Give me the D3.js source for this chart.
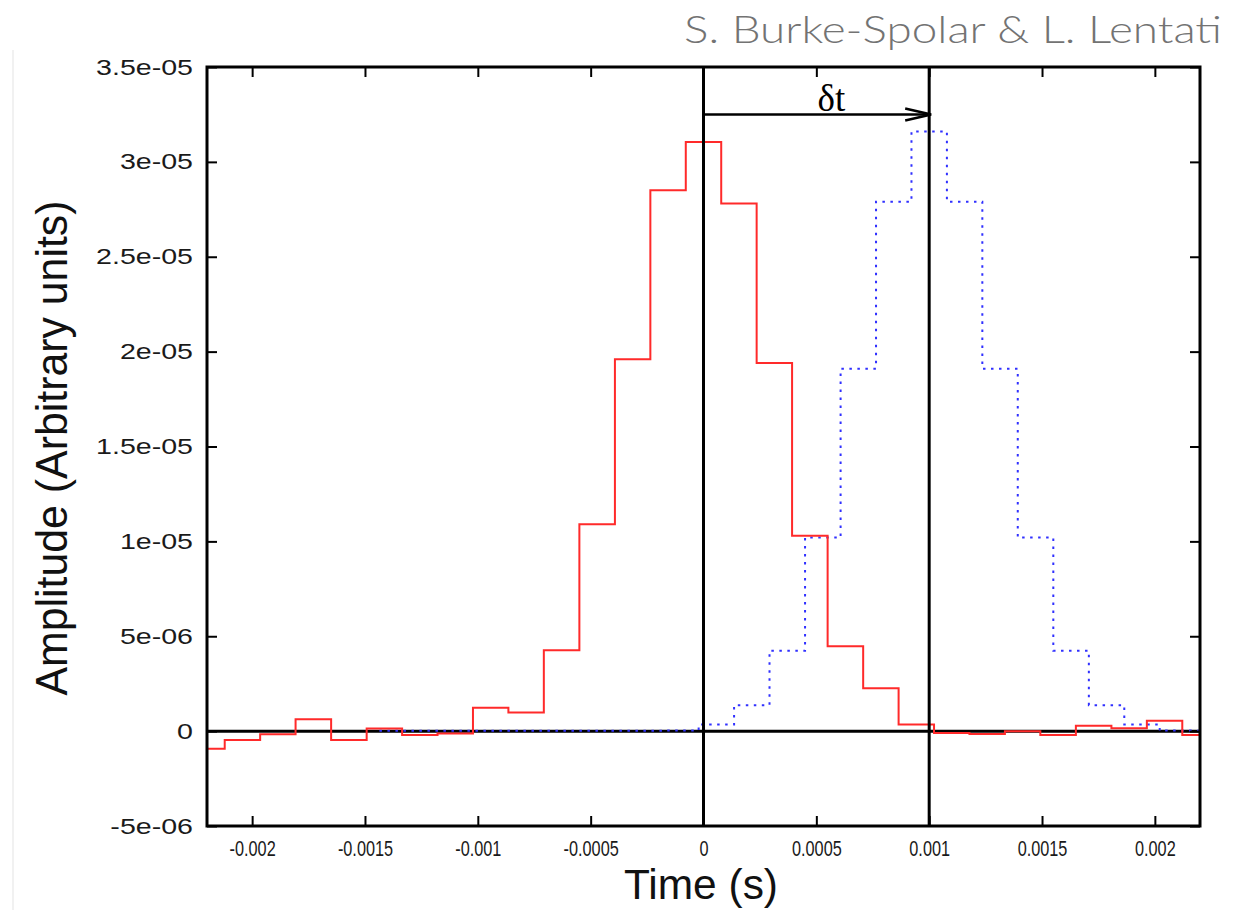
<!DOCTYPE html>
<html>
<head>
<meta charset="utf-8">
<script src="https://cdn.jsdelivr.net/npm/d3@7"></script>
<style>
  body { margin: 0; background: #fff; }
  text { font-family: "Liberation Sans", Arial, sans-serif; }
</style>
</head>
<body>
<svg width="1257" height="910"></svg>
<script>
// red: observed pulse (noisy), bins centred on these times (s)
var redTime = [-0.002200, -0.002043, -0.001886, -0.001729, -0.001571, -0.001414, -0.001257,
               -0.001100, -0.000943, -0.000786, -0.000629, -0.000471, -0.000314, -0.000157,
                0.000000,  0.000157,  0.000314,  0.000471,  0.000629,  0.000786,  0.000943,
                0.001100,  0.001257,  0.001414,  0.001571,  0.001729,  0.001886,  0.002043, 0.002200];
var redAmp = [-0.93e-6, -0.47e-6, -0.16e-6, 0.63e-6, -0.47e-6, 0.14e-6, -0.21e-6,
              -0.12e-6, 1.23e-6, 0.98e-6, 4.26e-6, 10.9e-6, 19.6e-6, 28.5e-6,
              31.05e-6, 27.8e-6, 19.4e-6, 10.3e-6, 4.47e-6, 2.26e-6, 0.35e-6,
              -0.10e-6, -0.15e-6, 0.0, -0.20e-6, 0.28e-6, 0.15e-6, 0.55e-6, -0.20e-6];

// blue: template shifted by dt (first entry is the left edge of its first bin)
var blueTime = [-0.001436, -0.001357,
                -0.001200, -0.001043, -0.000886, -0.000729, -0.000571, -0.000414, -0.000257,
                -0.000100,  0.000057,  0.000214,  0.000371,  0.000529,  0.000686,  0.000843,
                 0.001000,  0.001157,  0.001314,  0.001471,  0.001629,  0.001786,  0.001943,
                 0.002100,  0.002257];
var blueAmp = [0.02e-6, 0.02e-6,
               0.02e-6, 0.02e-6, 0.02e-6, 0.02e-6, 0.02e-6, 0.02e-6, 0.02e-6,
               0.03e-6, 0.35e-6, 1.37e-6, 4.24e-6, 10.2e-6, 19.1e-6, 27.9e-6,
               31.6e-6, 27.9e-6, 19.1e-6, 10.2e-6, 4.24e-6, 1.37e-6, 0.35e-6,
               0.03e-6, 0.02e-6];

var markTimes = [0, 0.001];
var arrowAmp = 3.25e-5;

var xTicks = [-0.002, -0.0015, -0.001, -0.0005, 0, 0.0005, 0.001, 0.0015, 0.002],
    xTickLabels = ["-0.002", "-0.0015", "-0.001", "-0.0005", "0", "0.0005", "0.001", "0.0015", "0.002"];
var yTicks = [-5e-6, 0, 5e-6, 1e-5, 1.5e-5, 2e-5, 2.5e-5, 3e-5, 3.5e-5],
    yTickLabels = ["-5e-06", "0", "5e-06", "1e-05", "1.5e-05", "2e-05", "2.5e-05", "3e-05", "3.5e-05"];

var svg = d3.select("svg"),
    margin = {top: 67, right: 57, bottom: 84, left: 207},
    width = +svg.attr("width") - margin.left - margin.right,
    height = +svg.attr("height") - margin.top - margin.bottom,
    g = svg.append("g").attr("transform", "translate(" + margin.left + "," + margin.top + ")");

var x = d3.scaleLinear()
    .domain([-0.0022, 0.0022])
    .range([0, width]);

var y = d3.scaleLinear()
    .domain([-5e-6, 3.5e-5])
    .range([height, 0]);

var step = d3.line()
    .x(function(d) { return x(d[0]); })
    .y(function(d) { return y(d[1]); })
    .curve(d3.curveStep);

// faint page edge
svg.append("line")
    .attr("x1", 13).attr("x2", 13).attr("y1", 50).attr("y2", 910)
    .attr("stroke", "#ececec").attr("stroke-width", 1.5);

// credit
svg.append("text")
    .attr("x", 1222).attr("y", 43)
    .attr("text-anchor", "end")
    .attr("textLength", 538).attr("lengthAdjust", "spacingAndGlyphs")
    .style("font-family", "Lato, 'Open Sans', sans-serif")
    .style("font-weight", 300)
    .style("font-size", "38px")
    .attr("fill", "#737373")
    .text("S. Burke-Spolar & L. Lentati");

g.append("defs").append("clipPath")
    .attr("id", "clip")
  .append("rect")
    .attr("width", width)
    .attr("height", height);

var plot = g.append("g").attr("clip-path", "url(#clip)");

// zero line under the curves
plot.append("line")
    .attr("x1", 0).attr("x2", width)
    .attr("y1", y(0)).attr("y2", y(0))
    .attr("stroke", "#000").attr("stroke-width", 3);

plot.append("path")
    .datum(d3.zip(blueTime, blueAmp))
    .attr("fill", "none")
    .attr("stroke", "#3030ff")
    .attr("stroke-width", 2)
    .attr("stroke-dasharray", "2.5,5.5")
    .attr("d", step);

plot.append("path")
    .datum(d3.zip(redTime, redAmp))
    .attr("fill", "none")
    .attr("stroke", "#ff2a2a")
    .attr("stroke-width", 2)
    .attr("d", step);

// the two markers on top
plot.selectAll(".mark")
    .data(markTimes)
  .enter().append("line")
    .attr("class", "mark")
    .attr("x1", function(d) { return x(d); })
    .attr("x2", function(d) { return x(d); })
    .attr("y1", 0).attr("y2", height)
    .attr("stroke", "#000").attr("stroke-width", 3);

// dt arrow
var ay = y(arrowAmp), ax0 = x(markTimes[0]), ax1 = x(markTimes[1]);
g.append("line")
    .attr("x1", ax0).attr("x2", ax1 - 1)
    .attr("y1", ay).attr("y2", ay)
    .attr("stroke", "#000").attr("stroke-width", 2.5);
g.append("path")
    .attr("d", "M" + (ax1 - 24) + "," + (ay - 6) + "L" + (ax1 + 2) + "," + ay + "L" + (ax1 - 24) + "," + (ay + 6))
    .attr("fill", "none")
    .attr("stroke", "#000").attr("stroke-width", 2.5);
g.append("text")
    .attr("x", x((markTimes[0] + markTimes[1]) / 2) + 15)
    .attr("y", ay - 3)
    .attr("text-anchor", "middle")
    .style("font-family", "'Liberation Serif', 'Times New Roman', serif")
    .style("font-size", "37px")
    .text("\u03b4t");

// axes, ticks inward and mirrored
function styleAxis(sel) {
  sel.select(".domain").remove();
  sel.selectAll(".tick line").attr("stroke", "#000").attr("stroke-width", 2);
  sel.selectAll(".tick text").attr("fill", "#1a1a1a");
}

var xLabScale = 0.74, yLabScale = 1.3;

g.append("g")
    .attr("transform", "translate(0," + height + ")")
    .call(d3.axisBottom(x).tickValues(xTicks)
      .tickFormat(function(d, i) { return xTickLabels[i]; })
      .tickSize(-10).tickPadding(14))
    .call(styleAxis)
    .selectAll(".tick text")
    .style("font-size", "22px")
    .attr("transform", "scale(" + xLabScale + ",1)");

g.append("g")
    .call(d3.axisTop(x).tickValues(xTicks).tickFormat("").tickSize(-10))
    .call(styleAxis);

g.append("g")
    .call(d3.axisLeft(y).tickValues(yTicks)
      .tickFormat(function(d, i) { return yTickLabels[i]; })
      .tickSize(-10).tickPadding(14))
    .call(styleAxis)
    .selectAll(".tick text")
    .style("font-size", "22px")
    .attr("x", -14 / yLabScale)
    .attr("transform", "scale(" + yLabScale + ",1)");

g.append("g")
    .attr("transform", "translate(" + width + ",0)")
    .call(d3.axisRight(y).tickValues(yTicks).tickFormat("").tickSize(-10))
    .call(styleAxis);

g.append("rect")
    .attr("width", width).attr("height", height)
    .attr("fill", "none")
    .attr("stroke", "#000").attr("stroke-width", 3);

// axis titles
svg.append("text")
    .attr("x", 701).attr("y", 899)
    .attr("text-anchor", "middle")
    .attr("textLength", 154).attr("lengthAdjust", "spacingAndGlyphs")
    .style("font-size", "42px")
    .attr("fill", "#111")
    .text("Time (s)");

svg.append("text")
    .attr("transform", "translate(67,448) rotate(-90)")
    .attr("text-anchor", "middle")
    .attr("textLength", 495).attr("lengthAdjust", "spacingAndGlyphs")
    .style("font-size", "44px")
    .attr("fill", "#111")
    .text("Amplitude (Arbitrary units)");
</script>
</body>
</html>
